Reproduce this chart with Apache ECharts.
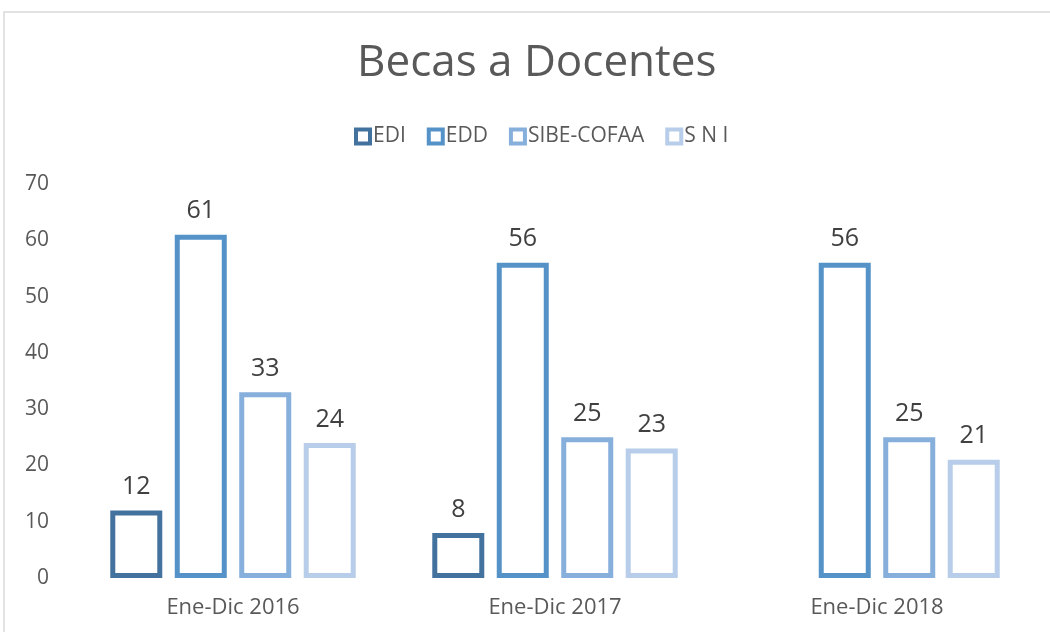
<!DOCTYPE html>
<html>
<head>
<meta charset="utf-8">
<script src="https://cdn.jsdelivr.net/npm/echarts@6/dist/echarts.min.js"></script>
<style>
  html, body { margin: 0; padding: 0; background: #fff; }
  #chart { width: 1050px; height: 632px; }
</style>
</head>
<body>
<div id="chart"></div>
<script>
// datos
const categories = ['Ene-Dic 2016', 'Ene-Dic 2017', 'Ene-Dic 2018'];
const seriesNames = ['EDI', 'EDD', 'SIBE-COFAA', 'S N I'];
const dataEDI = [12, 8, null];
const dataEDD = [61, 56, 56];
const dataSIBE = [33, 25, 25];
const dataSNI = [24, 23, 21];
const colors = ['#44729f', '#5592c8', '#86afdc', '#b7cde9'];

const chart = echarts.init(document.getElementById('chart'));
const font = '"Open Sans", sans-serif';

function makeSeries(name, data, color) {
  return {
    name: name,
    type: 'bar',
    data: data,
    barWidth: 52,
    barGap: '24%',
    itemStyle: {
      color: '#ffffff',
      borderColor: color,
      borderWidth: 5
    },
    label: {
      show: true,
      position: 'top',
      distance: 11,
      color: '#404040',
      fontSize: 25,
      fontFamily: font
    }
  };
}

const options = {
  animation: false,
  backgroundColor: '#ffffff',
  textStyle: { fontFamily: font },
  title: {
    text: 'Becas a Docentes',
    left: 352,
    top: 36,
    textStyle: {
      color: '#595959',
      fontSize: 44,
      fontWeight: 'normal',
      fontFamily: font
    }
  },
  legend: {
    top: 121,
    left: 349,
    icon: 'rect',
    itemWidth: 14,
    itemHeight: 14,
    itemGap: 21,
    itemStyle: { borderWidth: 4 },
    textStyle: { color: '#595959', fontSize: 21, fontFamily: font, padding: [0, 0, 0, -2] },
    data: seriesNames
  },
  graphic: [
    {
      type: 'rect',
      shape: { x: 4, y: 12, width: 1100, height: 700 },
      style: { fill: 'none', stroke: '#d9d9d9', lineWidth: 1.5 },
      silent: true,
      z: -1
    }
  ],
  grid: { left: 72, right: 12, top: 184, bottom: 54 },
  xAxis: {
    type: 'category',
    data: categories,
    axisLine: { show: false },
    axisTick: { show: false },
    axisLabel: { color: '#595959', fontSize: 22, margin: 19, fontFamily: font }
  },
  yAxis: {
    type: 'value',
    min: 0,
    max: 70,
    interval: 10,
    splitLine: { show: false },
    axisLine: { show: false },
    axisTick: { show: false },
    axisLabel: { color: '#595959', fontSize: 21, margin: 23, fontFamily: font }
  },
  series: [
    makeSeries(seriesNames[0], dataEDI, colors[0]),
    makeSeries(seriesNames[1], dataEDD, colors[1]),
    makeSeries(seriesNames[2], dataSIBE, colors[2]),
    makeSeries(seriesNames[3], dataSNI, colors[3])
  ]
};
chart.setOption(options);
</script>
</body>
</html>
